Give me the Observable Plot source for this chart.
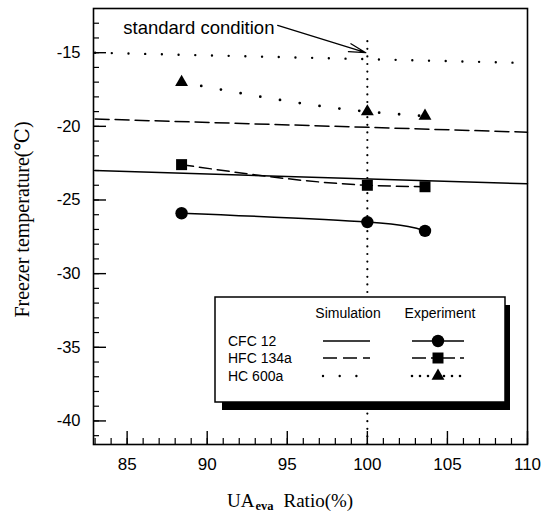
<!DOCTYPE html>
<html>
<head>
<meta charset="utf-8">
<script src="https://cdn.jsdelivr.net/npm/d3@7"></script>
<script src="https://cdn.jsdelivr.net/npm/@observablehq/plot@0.6"></script>
<style>
  html, body { margin: 0; padding: 0; background: #fff; }
</style>
</head>
<body>
<div id="chart"></div>
<script>
// ---------- data ----------
const refrigerants = ["CFC 12", "HFC 134a", "HC 600a"];
const symbols = ["circle", "square", "triangle"];

// Simulation (straight lines across the full range)
const simX = [83, 110];
const simCFC12 = [-23.0, -23.9];
const simHFC134a = [-19.5, -20.4];
const simHC600a = [-15.0, -15.7];

// Experiment
const expX = [88.4, 100, 103.6];
const expCFC12 = [-25.9, -26.5, -27.1];
const expHFC134a = [-22.6, -24.0, -24.1];
const expHC600a = [-17.0, -19.0, -19.3];

// standard condition
const standardX = 100;
const standardTop = -13.8;
const annotationText = "standard condition";
const annotationTextAt = [94.2, -13.3];
const annotationFrom = [94.4, -13.15];
const annotationTo = [99.9, -15];

// axes
const xDomain = [82.9, 110];
const yDomain = [-41.6, -12];
const xMajorTicks = [85, 90, 95, 100, 105, 110];
const yMajorTicks = [-40, -35, -30, -25, -20, -15];
const xMinorTicks = d3.range(83, 111, 1);
const yMinorTicks = d3.range(-41, -12, 1);
const xTitleMain = "UA";
const xTitleSub = "eva";
const xTitleRest = "Ratio(%)";
const yTitle = "Freezer temperature(\u2103)";
const legendHeaders = ["Simulation", "Experiment"];

// ---------- styles ----------
const sans = "'Liberation Sans', Arial, Helvetica, sans-serif";
const serif = "'Liberation Serif', 'Times New Roman', 'DejaVu Serif', serif";
const simStyle = [
  {strokeWidth: 1.5},
  {strokeWidth: 1.5, strokeDasharray: "14,6"},
  {strokeWidth: 2.4, strokeDasharray: "0,16.7", strokeLinecap: "round"}
];
const expStyle = [
  {strokeWidth: 1.5, curve: "natural"},
  {strokeWidth: 1.5, strokeDasharray: "12,6", curve: "monotone-x"},
  {strokeWidth: 2.8, strokeDasharray: "0,20", strokeLinecap: "round", curve: "monotone-x"}
];
const markerR = [6.2, 6.2, 4.8];
const minorLen = 6, majorLen = 13;

const simSeries = [simCFC12, simHFC134a, simHC600a];
const expSeries = [expCFC12, expHFC134a, expHC600a];

const simData = simSeries.map((ys) => ys.map((y, i) => ({x: simX[i], y})));
const expData = expSeries.map((ys) => ys.map((y, i) => ({x: expX[i], y})));

const marks = [];
marks.push(Plot.ruleX([standardX], {y1: yDomain[0], y2: standardTop, stroke: "black", strokeWidth: 2.2, strokeDasharray: "0,7.6", strokeLinecap: "round"}));
simData.forEach((d, k) => marks.push(Plot.line(d, {x: "x", y: "y", stroke: "black", ...simStyle[k]})));
expData.forEach((d, k) => marks.push(Plot.line(d, {x: "x", y: "y", stroke: "black", ...expStyle[k]})));
expData.forEach((d, k) => marks.push(Plot.dot(d, {x: "x", y: "y", symbol: symbols[k], r: markerR[k], fill: "black", stroke: "none"})));

// inward ticks: tick marks shifted back into the frame by their own length
marks.push(Plot.axisX(xMinorTicks, {tickSize: minorLen, dy: -minorLen, tickFormat: () => "", label: null, stroke: "black", strokeWidth: 1.2}));
marks.push(Plot.axisX(xMajorTicks, {tickSize: majorLen, dy: -majorLen, tickFormat: () => "", label: null, stroke: "black", strokeWidth: 1.4}));
marks.push(Plot.axisY(yMinorTicks, {tickSize: minorLen, dx: minorLen, tickFormat: () => "", label: null, stroke: "black", strokeWidth: 1.2}));
marks.push(Plot.axisY(yMajorTicks, {tickSize: majorLen, dx: majorLen, tickFormat: () => "", label: null, stroke: "black", strokeWidth: 1.4}));

marks.push(Plot.axisX(xMajorTicks, {tickSize: 0, tickPadding: 13, tickFormat: (d) => String(d), fontSize: 17, fontFamily: sans, label: null, fill: "black"}));
marks.push(Plot.axisY(yMajorTicks, {tickSize: 0, tickPadding: 13, tickFormat: (d) => String(d), fontSize: 16.5, fontFamily: sans, label: null, fill: "black"}));
marks.push(Plot.frame({stroke: "black", strokeWidth: 1.6}));

marks.push(Plot.arrow([{x1: annotationFrom[0], y1: annotationFrom[1], x2: annotationTo[0], y2: annotationTo[1]}],
  {x1: "x1", y1: "y1", x2: "x2", y2: "y2", stroke: "black", strokeWidth: 1.3, headLength: 20, headAngle: 28}));
marks.push(Plot.text([annotationText], {x: annotationTextAt[0], y: annotationTextAt[1], text: (d) => d, textAnchor: "end", fontSize: 18.5, fontFamily: sans, fill: "black"}));
marks.push(Plot.text([yTitle], {frameAnchor: "left", textAnchor: "middle", dx: -71, dy: -7, rotate: -90, text: (d) => d, fontSize: 20, fontFamily: serif, fill: "black"}));

const chart = Plot.plot({
  width: 557,
  height: 514,
  marginLeft: 93,
  marginRight: 30,
  marginTop: 8,
  marginBottom: 70,
  style: {fontFamily: sans, background: "white", color: "black", overflow: "visible"},
  x: {domain: xDomain},
  y: {domain: yDomain},
  marks
});
document.getElementById("chart").appendChild(chart);

// ---------- x-axis title with subscript ----------
const svg = d3.select(chart);
const xt = svg.append("text")
  .attr("x", 227).attr("y", 507).attr("text-anchor", "start")
  .attr("font-family", serif).attr("font-size", 19).attr("fill", "black");
xt.append("tspan").text(xTitleMain);
xt.append("tspan").attr("dy", 3).attr("dx", 1).attr("font-size", 12.5).attr("font-weight", "bold").text(xTitleSub);
xt.append("tspan").attr("dy", -3).attr("dx", 10).text(xTitleRest);

// ---------- legend ----------
const box = {x: 215, y: 297, w: 290, h: 105};
const lg = svg.append("g");
lg.append("rect").attr("x", box.x + 7).attr("y", box.y + 8).attr("width", box.w - 2).attr("height", box.h).attr("fill", "black");
lg.append("rect").attr("x", box.x).attr("y", box.y).attr("width", box.w).attr("height", box.h)
  .attr("fill", "white").attr("stroke", "black").attr("stroke-width", 1.5);

const headerX = [348, 440];
legendHeaders.forEach((h, i) => {
  lg.append("text").attr("x", headerX[i]).attr("y", box.y + 21).attr("text-anchor", "middle")
    .attr("font-family", sans).attr("font-size", 14).attr("fill", "black").text(h);
});
const rowY = [341, 358, 376];
const styleAttr = (sel, st) => {
  sel.attr("stroke", "black").attr("fill", "none").attr("stroke-width", st.strokeWidth);
  if (st.strokeDasharray) sel.attr("stroke-dasharray", st.strokeDasharray);
  if (st.strokeLinecap) sel.attr("stroke-linecap", st.strokeLinecap);
};
const legendExpDash = [null, "14,5,5,5", "0,8"];
const symMap = {circle: d3.symbolCircle, square: d3.symbolSquare, triangle: d3.symbolTriangle};
refrigerants.forEach((name, k) => {
  const y = rowY[k];
  lg.append("text").attr("x", 228).attr("y", y + 5).attr("text-anchor", "start")
    .attr("font-family", sans).attr("font-size", 14).attr("fill", "black").text(name);
  const sl = lg.append("line").attr("x1", 323).attr("x2", 370).attr("y1", y).attr("y2", y);
  styleAttr(sl, simStyle[k]);
  const el = lg.append("line").attr("x1", 412).attr("x2", 464).attr("y1", y).attr("y2", y);
  styleAttr(el, {...expStyle[k], strokeWidth: k === 2 ? 2.6 : 1.5, strokeDasharray: legendExpDash[k]});
  lg.append("path")
    .attr("d", d3.symbol(symMap[symbols[k]], Math.PI * markerR[k] * markerR[k])())
    .attr("transform", `translate(438,${y})`).attr("fill", "black");
});
</script>
</body>
</html>
